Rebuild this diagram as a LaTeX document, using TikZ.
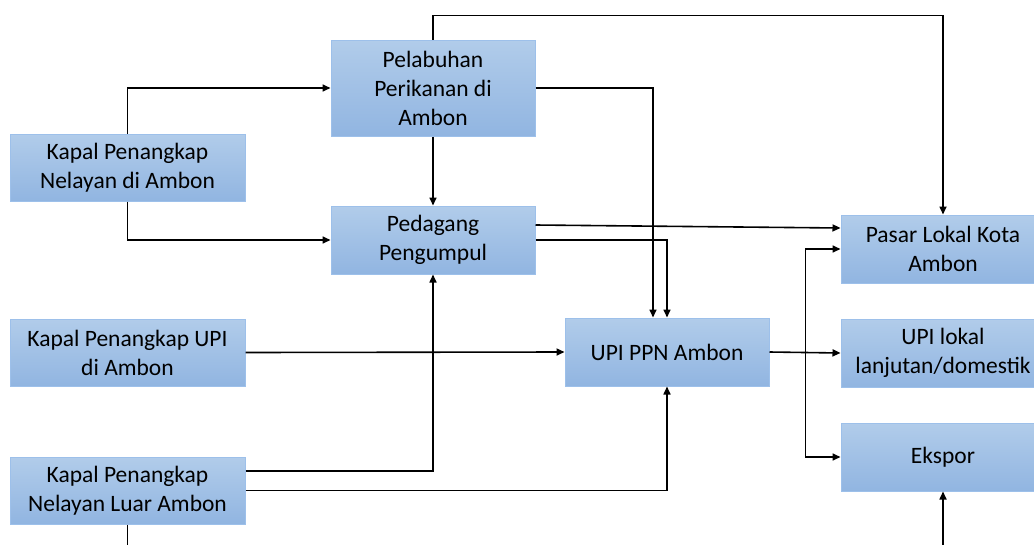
\documentclass[tikz,border=0pt]{standalone}
\usepackage{fontspec}
\setmainfont{Carlito}
\usetikzlibrary{arrows.meta}

\definecolor{birumuda}{HTML}{B1CCEA}
\definecolor{birutua}{HTML}{91B5E1}
\definecolor{birugaris}{HTML}{9DC0EA}

\tikzset{
  kotak/.style={rectangle, draw=birugaris, line width=1pt, top color=birumuda, bottom color=birutua,
    minimum height=68pt, minimum width=204pt, align=center, inner sep=0pt,
    font=\fontsize{23.5}{29}\selectfont},
  kotakkiri/.style={kotak, minimum width=235pt, minimum height=67pt},
  panah/.style={line width=1.6pt, -{Triangle[length=8pt,width=7pt]}},
  garis/.style={line width=1.6pt}
}

\begin{document}
\begin{tikzpicture}[x=1pt, y=-1pt]
    \useasboundingbox (0,0) rectangle (1034,544) ;
    \clip (0,0) rectangle (1034,544) ;

    \node [kotakkiri] (kpa) at (127.5,167.5) {Kapal Penangkap\\Nelayan di Ambon} ;
    \node [kotakkiri] (kpupi) at (127.5,352.5) {Kapal Penangkap UPI\\di Ambon} ;
    \node [kotakkiri] (kpluar) at (127.5,490.5) {Kapal Penangkap\\Nelayan Luar Ambon} ;

    \node [kotak, minimum height=96pt] (pelabuhan) at (433,88) {Pelabuhan\\Perikanan di\\Ambon} ;
    \node [kotak] (pedagang) at (433,240) {Pedagang\\Pengumpul} ;
    \node [kotak] (upippn) at (667,352) {UPI PPN Ambon} ;

    \node [kotak] (pasar) at (943,249) {Pasar Lokal Kota\\Ambon} ;
    \node [kotak] (upilokal) at (943,353) {UPI lokal\\lanjutan/domestik} ;
    \node [kotak] (ekspor) at (943,457) {Ekspor} ;

    \draw [panah] (kpa.north) |- (pelabuhan.west) ;
    \draw [panah] (kpa.south) |- (pedagang.west) ;
    \draw [panah] (pelabuhan.south) -- (pedagang.north) ;
    \draw [panah] (pelabuhan.north) -- ++(0,-24) -| (pasar.north) ;
    \draw [panah] (pelabuhan.east) -| ([xshift=-14pt]upippn.north) ;
    \draw [panah] ([yshift=15pt]pedagang.east) -- ([yshift=21pt]pasar.west) ;
    \draw [panah] (pedagang.east) -| (upippn.north) ;
    \draw [panah] (kpupi.east) -- (upippn.west) ;
    \draw [panah] ([yshift=19.5pt]kpluar.east) -| (pedagang.south) ;
    \draw [panah] (kpluar.east) -| (upippn.south) ;
    \draw [garis] (kpluar.south) -- ++(0,40) ;

    \coordinate (cabang) at ([xshift=36pt]upippn.east) ;
    \draw [panah] (upippn.east) -- (upilokal.west) ;
    \draw [panah] (cabang) |- (pasar.west) ;
    \draw [panah] (cabang) |- (ekspor.west) ;
    \draw [panah] ([yshift=-70pt]ekspor.south) -- (ekspor.south) ;
\end{tikzpicture}
\end{document}
